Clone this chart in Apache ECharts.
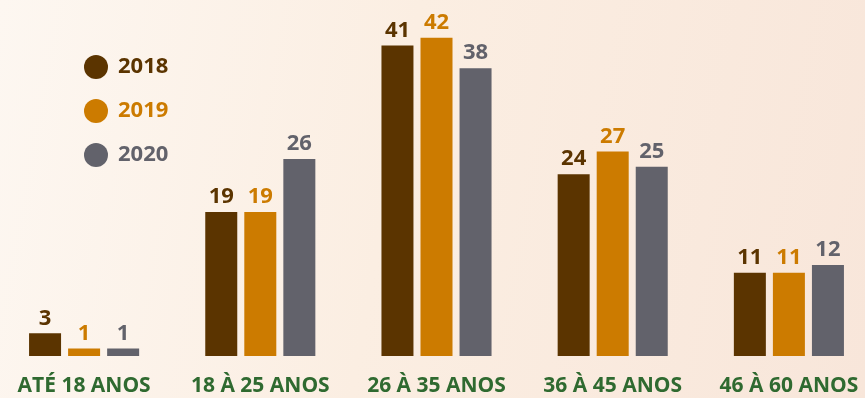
<!DOCTYPE html>
<html>
<head>
<meta charset="utf-8">
<script src="https://cdn.jsdelivr.net/npm/echarts@6/dist/echarts.min.js"></script>
<style>
  html, body { margin: 0; padding: 0; overflow: hidden; }
  #wrap {
    position: relative; width: 865px; height: 398px; overflow: hidden;
    background: linear-gradient(100deg, #fdf7f1 0%, #fbeee2 45%, #f8e6da 100%);
  }
  #chart { position: absolute; left: -4px; top: 0; width: 881px; height: 398px; }
</style>
</head>
<body>
<div id="wrap"><div id="chart"></div></div>
<script>
// Faixas etárias e percentuais por ano
const categories = ['ATÉ 18 ANOS', '18 À 25 ANOS', '26 À 35 ANOS', '36 À 45 ANOS', '46 À 60 ANOS'];
const years = ['2018', '2019', '2020'];
const values2018 = [3, 19, 41, 24, 11];
const values2019 = [1, 19, 42, 27, 11];
const values2020 = [1, 26, 38, 25, 12];
const colors = ['#5b3400', '#cc7b00', '#62626b'];

const seriesValues = [values2018, values2019, values2020];
const fontFamily = '"Open Sans", sans-serif';

const chart = echarts.init(document.getElementById('chart'), null, { renderer: 'canvas' });
chart.setOption({
  animation: false,
  legend: {
    orient: 'vertical',
    left: 88,
    top: 55,
    padding: 0,
    itemGap: 20,
    icon: 'circle',
    itemWidth: 34,
    itemHeight: 24,
    data: years.map((y, i) => ({
      name: y,
      textStyle: { color: colors[i] }
    })),
    textStyle: { fontFamily, fontWeight: 'bold', fontSize: 22 },
    selectedMode: false
  },
  grid: { left: 0, right: 0, top: 0, bottom: 42, containLabel: false },
  xAxis: {
    type: 'category',
    data: categories,
    axisLine: { show: false },
    axisTick: { show: false },
    axisLabel: {
      interval: 0,
      hideOverlap: false,
      color: '#2f6a30',
      fontFamily,
      fontWeight: 'bold',
      fontSize: 21,
      margin: 20
    }
  },
  yAxis: {
    type: 'value',
    min: 0,
    max: 47,
    show: false,
    splitLine: { show: false }
  },
  series: seriesValues.map((vals, i) => ({
    name: years[i],
    type: 'bar',
    data: vals,
    barWidth: 32,
    barGap: '22%',
    itemStyle: { color: colors[i] },
    label: {
      show: true,
      position: 'top',
      distance: 4,
      color: colors[i],
      fontFamily,
      fontWeight: 'bold',
      fontSize: 22
    }
  }))
});
</script>
</body>
</html>
